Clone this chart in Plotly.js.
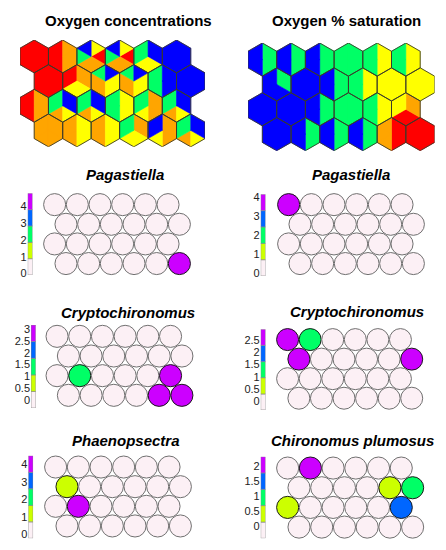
<!DOCTYPE html>
<html>
<head>
<meta charset="utf-8">
<script src="https://cdn.plot.ly/plotly-3.0.1.min.js"></script>
<style>
  html, body { margin: 0; padding: 0; background: #fff; }
  #chart { width: 446px; height: 550px; }
</style>
</head>
<body>
<div id="chart"></div>
<script>
const W = 446, H = 550;

// hexagon maps: one string per unit, rows top to bottom, six wedges per unit
// (clockwise from the upper right one). R red, O orange, Y yellow, G green, B blue
const oxygenConc = [
  'RRRRRR', 'OOORRR', 'YROOGB', 'YROOGB', 'BBYYGG', 'BBBBBB',
  'RRRRRR', 'OOYYRR', 'BYYOOG', 'BYYOOG', 'BBBGGG', 'BBBBBB',
  'OOORRR', 'BBYOGG', 'BBYOGG', 'YYYGGG', 'OOOYGG', 'BBYOGG',
  'OOOOOO', 'YYYOOO', 'YYYOOO', 'OOYYGG', 'OOOYBB', 'BBYOGG'
];
const oxygenSat = [
  'GGGBBB', 'GGGBBB', 'GGGBBB', 'GGGGGG', 'YYYGGG', 'YYYGGG',
  'GGBBBB', 'BBBBBB', 'GGGBBB', 'YYYGGG', 'YYYYYY', 'YYYYYY',
  'BBBBBB', 'BBBBBB', 'GGGBBB', 'GGGGGG', 'YYYGGG', 'OORRYY',
  'BBBBBB', 'GGGBBB', 'GGGBBB', 'GGGBBB', 'RRROOO', 'RRRRRR'
];
const hexColors = { R: '#ff0000', O: '#ffa500', Y: '#ffff00', G: '#00ff66', B: '#0000ff' };

// counts per unit, rows top to bottom
const pagastiellaA = [0,0,0,0,0,0, 0,0,0,0,0,0, 0,0,0,0,0,0, 0,0,0,0,0,4];
const pagastiellaB = [4,0,0,0,0,0, 0,0,0,0,0,0, 0,0,0,0,0,0, 0,0,0,0,0,0];
const cryptoA = [0,0,0,0,0,0, 0,0,0,0,0,0, 0,1.4,0,0,0,3, 0,0,0,0,3,3];
const cryptoB = [2.7,1.3,0,0,0,0, 2.7,0,0,0,0,2.7, 0,0,0,0,0,0, 0,0,0,0,0,0];
const phaenopsectra = [0,0,0,0,0,0, 1,0,0,0,0,0, 0,4,0,0,0,0, 0,0,0,0,0,0];
const chironomus = [0,2,0,0,0,0, 0,0,0,0,0.5,1, 0.5,0,0,0,0,1.5, 0,0,0,0,0,0];

// colour keys
const keyColors = ['#fcf0f5', '#ccff00', '#00ff66', '#0066ff', '#cc00ff'];
const breaksPagA = [-0.1, 0.88, 1.86, 2.84, 3.82, 4.8];
const breaksPagB = [-0.14, 0.72, 1.58, 2.45, 3.31, 4.17];
const breaksCryA = [-0.34, 0.36, 1.06, 1.76, 2.47, 3.17];
const breaksCryB = [-0.34, 0.31, 0.97, 1.62, 2.28, 2.93];
const breaksPha = [-0.23, 0.71, 1.65, 2.6, 3.54, 4.49];
const breaksChi = [-0.42, 0.12, 0.67, 1.21, 1.76, 2.3];
const ticksInt = [0, 1, 2, 3, 4];
const ticksHalf3 = [0, 0.5, 1, 1.5, 2, 2.5, 3];
const ticksHalf25 = [0, 0.5, 1, 1.5, 2, 2.5];
const ticksHalf2 = [0, 0.5, 1, 1.5, 2];

const traces = [];
const layout = {
  width: W, height: H,
  margin: { l: 0, r: 0, t: 0, b: 0 },
  paper_bgcolor: '#fff', plot_bgcolor: 'rgba(0,0,0,0)',
  showlegend: false,
  annotations: []
};

let axisCount = 0;
function addAxes(left, top, w, h, xr, yr, yextra) {
  axisCount++;
  const n = axisCount === 1 ? '' : axisCount;
  layout['xaxis' + n] = {
    domain: [left / W, (left + w) / W], range: xr,
    visible: false, fixedrange: true, anchor: 'y' + n
  };
  layout['yaxis' + n] = Object.assign({
    domain: [1 - (top + h) / H, 1 - top / H], range: yr,
    visible: false, fixedrange: true, anchor: 'x' + n
  }, yextra || {});
  return ['x' + n, 'y' + n];
}

function title(text, x, y, italic) {
  layout.annotations.push({
    text: italic ? '<b><i>' + text + '</i></b>' : '<b>' + text + '</b>',
    x: x / W, y: 1 - y / H, xref: 'paper', yref: 'paper',
    xanchor: 'center', yanchor: 'middle', showarrow: false,
    font: { family: 'Liberation Sans, Arial, sans-serif', size: 15, color: '#000' }
  });
}

const DY = Math.sqrt(3) / 2;
const R = 1 / Math.sqrt(3);
const angles = [90, 30, -30, -90, -150, 150].map(a => a * Math.PI / 180);

function hexPanel(codes, left, top, s) {
  const hgt = 3 * DY + 2 * R;
  const [xa, ya] = addAxes(left, top, 6.5 * s, hgt * s, [-0.5, 6], [-3 * DY - R, R]);
  const px = {}, py = {};
  Object.keys(hexColors).forEach(k => { px[k] = []; py[k] = []; });
  const ox = [], oy = [];
  codes.forEach((code, i) => {
    const r = Math.floor(i / 6), c = i % 6;
    const cx = c + (r % 2) * 0.5, cy = -r * DY;
    const v = angles.map(a => [cx + R * Math.cos(a), cy + R * Math.sin(a)]);
    for (let k = 0; k < 6; k++) {
      const col = code[k];
      const a = v[k], b = v[(k + 1) % 6];
      px[col].push(cx, a[0], b[0], cx, null);
      py[col].push(cy, a[1], b[1], cy, null);
    }
    v.concat([v[0]]).forEach(p => { ox.push(p[0]); oy.push(p[1]); });
    ox.push(null); oy.push(null);
  });
  Object.keys(hexColors).forEach(k => {
    if (!px[k].length) return;
    traces.push({
      type: 'scatter', mode: 'lines', x: px[k], y: py[k], fill: 'toself',
      fillcolor: hexColors[k], line: { color: hexColors[k], width: 0.6 },
      xaxis: xa, yaxis: ya, hoverinfo: 'skip'
    });
  });
  traces.push({
    type: 'scatter', mode: 'lines', x: ox, y: oy,
    line: { color: '#3a3a2a', width: 0.9 }, xaxis: xa, yaxis: ya, hoverinfo: 'skip'
  });
}

function discreteScale(breaks) {
  const lo = breaks[0], hi = breaks[breaks.length - 1];
  const cs = [];
  keyColors.forEach((c, i) => {
    cs.push([(breaks[i] - lo) / (hi - lo), c]);
    cs.push([(breaks[i + 1] - lo) / (hi - lo), c]);
  });
  return cs;
}

function circlePanel(values, breaks, ticks, left, top, s, keyLeft, keyTop, keyBottom) {
  const hgt = 3 * DY + 1;
  const [xa, ya] = addAxes(left, top, 6.5 * s, hgt * s, [-0.5, 6], [-3 * DY - 0.5, 0.5]);
  const xs = [], ys = [];
  values.forEach((v, i) => {
    const r = Math.floor(i / 6), c = i % 6;
    xs.push(c + (r % 2) * 0.5);
    ys.push(-r * DY);
  });
  traces.push({
    type: 'scatter', mode: 'markers', x: xs, y: ys, xaxis: xa, yaxis: ya,
    cliponaxis: false, hoverinfo: 'skip',
    marker: {
      size: s - 0.6, color: values, cmin: breaks[0], cmax: breaks[breaks.length - 1],
      colorscale: discreteScale(breaks), showscale: false,
      line: { width: 1, color: values.map(v => v > 0 ? '#1a1a1a' : '#707070') }
    }
  });
  // colour key
  const lo = breaks[0], hi = breaks[breaks.length - 1];
  const [kx, ky] = addAxes(keyLeft, keyTop, 4.8, keyBottom - keyTop, [-0.5, 0.5], [lo, hi], {
    visible: true, showgrid: false, zeroline: false, showline: false, ticks: '',
    tickvals: ticks, ticktext: ticks.map(String),
    tickfont: { family: 'Liberation Sans, Arial, sans-serif', size: 11, color: '#222' }
  });
  traces.push({
    type: 'bar', x: keyColors.map(() => 0), base: breaks.slice(0, 5),
    y: breaks.slice(1).map((b, i) => b - breaks[i]), width: 1,
    marker: { color: keyColors, line: { color: '#8a8a8a', width: 0.7 } },
    xaxis: kx, yaxis: ky, hoverinfo: 'skip'
  });
}

hexPanel(oxygenConc, 20, 40, 28.46);
hexPanel(oxygenSat, 248, 43, 28.7);
title('Oxygen concentrations', 128, 20, false);
title('Oxygen % saturation', 346.5, 20, false);

circlePanel(pagastiellaA, breaksPagA, ticksInt, 43.3, 193.3, 22.68, 27.7, 193.3, 275);
circlePanel(pagastiellaB, breaksPagB, ticksInt, 277.3, 193.3, 22.68, 260.7, 194.3, 276);
circlePanel(cryptoA, breaksCryA, ticksHalf3, 45.7, 325, 22.7, 31, 325, 408);
circlePanel(cryptoB, breaksCryB, ticksHalf25, 276.3, 328.3, 22.57, 260.7, 329.3, 410);
circlePanel(phaenopsectra, breaksPha, ticksInt, 44.3, 455.7, 22.68, 28.3, 455.7, 538.3);
circlePanel(chironomus, breaksChi, ticksHalf2, 276.3, 456.7, 22.72, 260.7, 456.7, 538.3);

title('Pagastiella', 125, 175, true);
title('Pagastiella', 351, 175, true);
title('Cryptochironomus', 127.5, 312.7, true);
title('Cryptochironomus', 356.5, 311.7, true);
title('Phaenopsectra', 125.8, 440, true);
title('Chironomus plumosus', 352, 441, true);

Plotly.newPlot('chart', traces, layout, { displayModeBar: false, staticPlot: true });
</script>
</body>
</html>
